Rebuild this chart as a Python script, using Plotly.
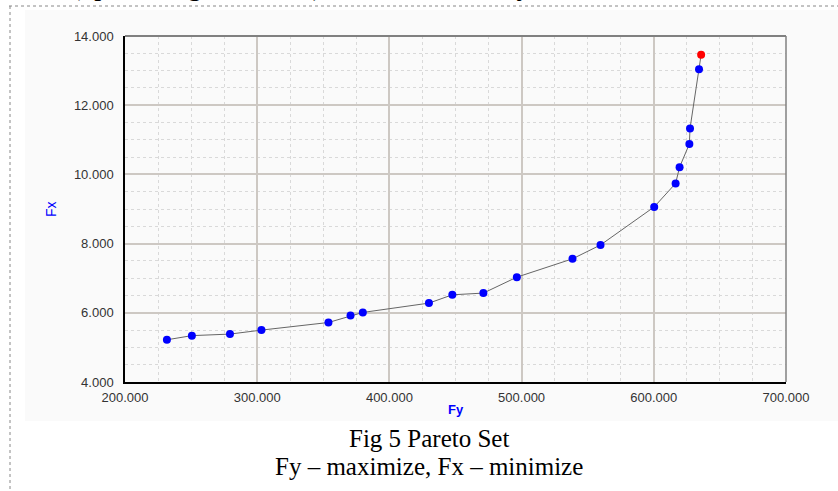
import plotly.graph_objects as go

# ---- data ----
fy_values = [231.7, 250.6, 279.4, 303.2, 353.9, 370.6, 379.9, 429.9, 447.6, 471.1,
             496.4, 538.5, 559.7, 600.3, 616.5, 619.5, 626.9, 627.4, 634.2, 635.8]
fx_values = [5.22, 5.34, 5.385, 5.50, 5.72, 5.92, 6.01, 6.28, 6.52, 6.57,
             7.03, 7.56, 7.96, 9.06, 9.74, 10.21, 10.88, 11.33, 13.04, 13.46]
point_colors = ["#0000ff"] * 19 + ["#ff0000"]

x_axis_title = "Fy"
y_axis_title = "Fx"
caption_line1 = "Fig 5 Pareto Set"
caption_line2 = "Fy \u2013 maximize, Fx \u2013 minimize"

# ---- layout geometry ----
W, H = 838, 491
L, R, T, B = 125, 52, 36, 109
PW, PH = W - L - R, H - T - B


def px(x):
    return (x - L) / PW


def py(y):
    return (H - B - y) / PH


fig = go.Figure()
fig.add_trace(go.Scatter(
    x=fy_values, y=fx_values, mode="lines+markers",
    line=dict(color="#666666", width=1),
    marker=dict(color=point_colors, size=8, line=dict(width=0)),
    showlegend=False, hoverinfo="x+y",
))

tick_font = dict(family="Liberation Sans, Arial, sans-serif", size=13, color="#333333")

fig.update_layout(
    width=W, height=H,
    margin=dict(l=L, r=R, t=T, b=B, pad=0),
    paper_bgcolor="#ffffff",
    plot_bgcolor="#ffffff",
    xaxis=dict(
        range=[200, 700], tick0=200, dtick=100, tickformat=".3f",
        showgrid=True, gridcolor="#cdc8c3", gridwidth=1.5,
        minor=dict(dtick=25, tick0=200, showgrid=True, gridcolor="#d9d9d9",
                   griddash="dot", gridwidth=1, ticks=""),
        showline=True, linecolor="#000000", linewidth=1.5,
        ticks="", tickfont=tick_font, zeroline=False, ticklabelstandoff=3,
    ),
    yaxis=dict(
        range=[4, 14], tick0=4, dtick=2, tickformat=".3f",
        showgrid=True, gridcolor="#cdc8c3", gridwidth=1.5,
        minor=dict(dtick=0.5, tick0=4, showgrid=True, gridcolor="#d9d9d9",
                   griddash="dot", gridwidth=1, ticks=""),
        showline=True, linecolor="#000000", linewidth=1.5,
        ticks="", tickfont=tick_font, zeroline=False, ticklabelstandoff=7,
    ),
)

shapes = [
    # light grey backdrop of the embedded chart image
    dict(type="rect", xref="paper", yref="paper", x0=px(25), x1=px(838), y0=py(421), y1=py(10),
         fillcolor="#fafafa", line=dict(width=0), layer="below"),
    # dotted page frame
    dict(type="line", xref="paper", yref="paper", x0=px(9), x1=px(838), y0=py(6), y1=py(6),
         line=dict(color="#888888", width=1, dash="dot")),
    dict(type="line", xref="paper", yref="paper", x0=px(10), x1=px(10), y0=py(6), y1=py(491),
         line=dict(color="#888888", width=1, dash="dot")),
    # top and right frame of plot area (grey)
    dict(type="line", xref="paper", yref="paper", x0=0, x1=1, y0=1, y1=1,
         line=dict(color="#808080", width=2), layer="above"),
    dict(type="line", xref="paper", yref="paper", x0=1, x1=1, y0=0, y1=1,
         line=dict(color="#808080", width=1.5), layer="above"),
]
fig.update_layout(shapes=shapes)

serif = "Liberation Serif, Times New Roman, serif"
annotations = [
    dict(text=x_axis_title, xref="paper", yref="paper", x=px(456), y=py(409),
         showarrow=False, xanchor="center", yanchor="middle",
         font=dict(family="Liberation Sans, Arial, sans-serif", size=13, color="#0000ff", weight="bold")),
    dict(text=y_axis_title, xref="paper", yref="paper", x=px(51), y=py(209),
         showarrow=False, xanchor="center", yanchor="middle", textangle=-90,
         font=dict(family="Liberation Sans, Arial, sans-serif", size=14, color="#0000ff")),
    dict(text=caption_line1, xref="paper", yref="paper", x=px(429), y=py(438),
         showarrow=False, xanchor="center", yanchor="middle",
         font=dict(family=serif, size=25, color="#000000")),
    dict(text=caption_line2, xref="paper", yref="paper", x=px(429), y=py(467),
         showarrow=False, xanchor="center", yanchor="middle",
         font=dict(family=serif, size=25, color="#000000")),
    # text of the page above the figure, cut off by the top edge
    dict(text="(optimizing functions)", xref="paper", yref="paper", x=px(70), y=py(2.5),
         showarrow=False, xanchor="left", yanchor="bottom", borderpad=0,
         font=dict(family=serif, size=28, color="#000000")),
    dict(text="simultaneously", xref="paper", yref="paper", x=px(532), y=py(2.5),
         showarrow=False, xanchor="right", yanchor="bottom", borderpad=0,
         font=dict(family=serif, size=28, color="#000000")),
]
fig.update_layout(annotations=annotations)

fig.write_html("out.html",
               config={"displayModeBar": False},
               post_script="document.body.style.margin='0';document.body.style.overflow='hidden';")
